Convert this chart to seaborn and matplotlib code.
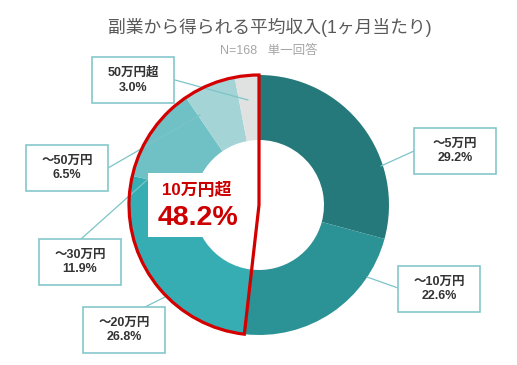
import matplotlib
matplotlib.use("Agg")
import matplotlib.pyplot as plt
from matplotlib.patches import Rectangle, Wedge
import seaborn as sns

# data
categories = ["～5万円", "～10万円", "～20万円", "～30万円", "～50万円", "50万円超"]
shares = [29.2, 22.6, 26.8, 11.9, 6.5, 3.0]
highlight_label = "10万円超"
highlight_from = 2   # index of first slice in the highlighted group
title = "副業から得られる平均収入(1ヶ月当たり)"
subtitle = "N=168   単一回答"

colors = ["#25797b", "#2b9295", "#36adb3", "#6fc1c5", "#a5d4d6", "#e0e2e2"]

sns.set_theme(style="white")
plt.rcParams["font.family"] = ["Liberation Sans", "Noto Sans CJK JP", "DejaVu Sans"]

W, H = 517, 365
R = 130.0          # outer radius in px
CX, CY = 259, 205  # donut centre in px


def px(x, y):
    return (x - CX) / R, (CY - y) / R


fig = plt.figure(figsize=(W / 100, H / 100), dpi=100)
ax = fig.add_axes([0, 0, 1, 1])

ax.pie(shares, colors=colors, startangle=90, counterclock=False, radius=1.0,
       wedgeprops=dict(width=0.5, linewidth=0))
ax.set_aspect("auto")
ax.set_xlim(px(0, 0)[0], px(W, 0)[0])
ax.set_ylim(px(0, H)[1], px(0, 0)[1])
ax.axis("off")

# label boxes: (box centre px, leader start px, leader end px)
layout = [
    ((455, 151), (414, 151), (381, 166)),
    ((439, 289), (398, 288), (367, 277)),
    ((124, 330), (145, 307), (165, 297)),
    ((80, 262), (81, 239), (147, 180)),
    ((67, 168), (108, 168), (200, 115)),
    ((133, 80), (175, 80), (248, 100)),
]
bw, bh = 82 / R, 46 / R
for cat, val, (c, s, e) in zip(categories, shares, layout):
    (x0, y0), (x1, y1) = px(*s), px(*e)
    ax.plot([x0, x1], [y0, y1], color="#7cc4c8", lw=0.9, zorder=3)
    bx, by = px(*c)
    ax.add_patch(Rectangle((bx - bw / 2, by - bh / 2), bw, bh, facecolor="white",
                           edgecolor="#84c7cb", lw=1.2, zorder=4))
    ax.text(bx, by, f"{cat}\n{val:.1f}%", ha="center", va="center", fontsize=9,
            fontweight="bold", color="#333333", linespacing=1.3, zorder=5)

# highlighted group
total = sum(shares[highlight_from:])
cx0, cy0 = px(148, 237)
ax.add_patch(Rectangle((cx0, cy0), 87 / R, 64 / R, facecolor="white",
                       edgecolor="none", zorder=4))
ax.add_patch(Wedge((0, 0), 1.0, 90, 90 + total * 3.6, fill=False,
                   edgecolor="#d40000", lw=2.3, zorder=6))
ax.text(*px(197, 190), highlight_label, ha="center", va="center", fontsize=12.2,
        fontweight="bold", color="#cc0000", zorder=7)
ax.text(*px(198, 218), f"{total:.1f}%", ha="center", va="center", fontsize=20.5,
        fontweight="bold", color="#cc0000", zorder=7)

ax.text(*px(270, 27), title, ha="center", va="center", fontsize=12.8,
        color="#595959")
ax.text(*px(269, 51), subtitle, ha="center", va="center", fontsize=9,
        color="#a6a6a6")

fig.savefig("out.png", dpi=100)
